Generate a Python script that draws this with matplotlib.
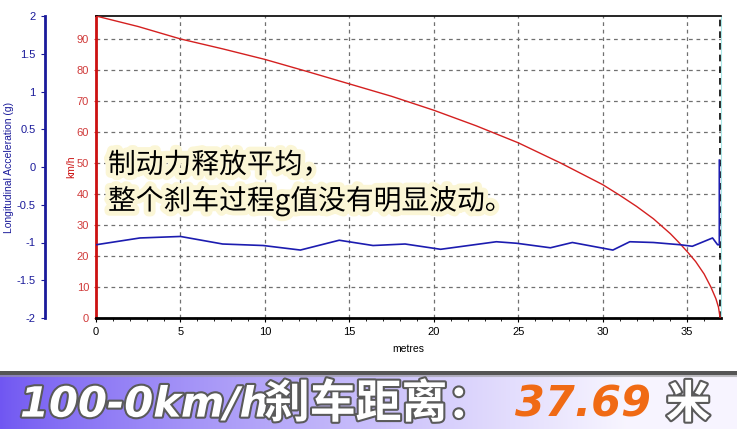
import matplotlib as mpl
mpl.use('Agg')
import matplotlib.pyplot as plt
import matplotlib.patheffects as pe
import numpy as np

# speed (km/h) against distance (m)
dist_v = [0, 2.5, 5, 7.5, 10, 12.5, 15, 17.5, 20, 22.5, 25, 27.5, 30, 31, 32, 33, 34, 34.5, 35, 35.5, 36, 36.4, 36.7, 36.85, 36.95]
speed = [97.4, 94, 90, 86.8, 83.4, 79.5, 75.5, 71.5, 67, 62, 56.5, 50, 43, 39.6, 36, 32, 27.2, 24.4, 21.4, 18.2, 14.2, 10, 6.2, 3.5, 0]

# longitudinal acceleration (g) against distance (m)
dist_g = [0, 2.6, 5.0, 7.5, 9.9, 12.1, 14.4, 16.4, 18.3, 20.4, 23.7, 24.9, 26.9, 28.2, 30.6, 31.6, 33.0, 34.6, 35.3, 36.5, 36.8, 36.9, 36.9]
accel = [-1.03, -0.94, -0.92, -1.02, -1.04, -1.10, -0.97, -1.04, -1.02, -1.09, -0.99, -1.01, -1.07, -1.00, -1.10, -0.99, -1.00, -1.03, -1.05, -0.94, -1.03, -1.03, 0.09]

x_ticks = [0, 5, 10, 15, 20, 25, 30, 35]
v_ticks = [0, 10, 20, 30, 40, 50, 60, 70, 80, 90]
g_ticks = [-2, -1.5, -1, -0.5, 0, 0.5, 1, 1.5, 2]
g_labels = ['-2', '-1.5', '-1', '-0.5', '0', '0.5', '1', '1.5', '2']

note1 = '制动力释放平均，'
note2 = '整个刹车过程g值没有明显波动。'
title_a1 = '100-0km/h'
title_a2 = '刹车距离：'
title_b = '37.69'
title_c = '米'

red = '#cc1111'
blue = '#1a1a9a'
W, H = 737, 429

plt.rcParams['font.family'] = ['Liberation Sans', 'DejaVu Sans']
fig = plt.figure(figsize=(W / 100, H / 100), dpi=100)

ax = fig.add_axes([96 / W, 1 - 318 / H, 625 / W, 302 / H])
ax.plot(dist_v, speed, color='#d42020', lw=1.0, zorder=3)
ax.set_xlim(0, 37.0)
ax.set_ylim(0, 97.4)
ax.set_xticks(x_ticks)
ax.set_xticks(np.arange(0, 37, 1), minor=True)
ax.set_yticks(v_ticks)
ax.grid(True, color='#707070', ls=(0, (3, 3)), lw=0.9)
ax.tick_params(axis='y', colors='#d03a3a', labelsize=8, length=3, direction='inout')
ax.tick_params(axis='x', labelsize=8, length=3, colors='black')
ax.tick_params(axis='x', which='minor', length=2)
ax.spines['left'].set_color(red)
ax.spines['left'].set_linewidth(2)
ax.spines['bottom'].set_linewidth(2)
ax.spines['top'].set_linewidth(1.2)
ax.spines['right'].set_color('#a8e8e8')
ax.axvline(36.95, color='black', ls=(0, (4, 3)), lw=1.2, zorder=2)
ax.set_xlabel('metres', fontsize=7.5, labelpad=5)
ax.set_ylabel('km/h', color=red, fontsize=7.5, labelpad=0)

ax2 = ax.twinx()
ax2.plot(dist_g, accel, color='#1c1cb0', lw=1.2, zorder=3)
ax2.set_ylim(-2, 2)
ax2.set_yticks(g_ticks)
ax2.set_yticklabels(g_labels)
ax2.yaxis.set_ticks_position('left')
ax2.yaxis.set_label_position('left')
ax2.spines['left'].set_position(('axes', -0.082))
ax2.spines['left'].set_color(blue)
ax2.spines['left'].set_linewidth(2)
ax2.spines['right'].set_visible(False)
ax2.spines['top'].set_visible(False)
ax2.spines['bottom'].set_visible(False)
ax2.tick_params(axis='y', colors=blue, labelsize=8, length=3)
ax2.set_ylabel('Longitudinal Acceleration (g)', color=blue, fontsize=7.5, labelpad=2)

glow = [pe.withStroke(linewidth=7, foreground='#fbf6d6')]
cjk = ['Noto Sans CJK SC', 'DejaVu Sans']
fig.text(108 / W, 1 - 165 / H, note1, family=cjk, fontsize=20, va='center',
         color='black', path_effects=glow, zorder=5)
fig.text(108 / W, 1 - 201 / H, note2, family=cjk, fontsize=20, va='center',
         color='black', path_effects=glow, zorder=5)

# banner
bx = fig.add_axes([0, 0, 1, 58 / H])
grad = np.linspace(0, 1, 256)
c0 = np.array([0.44, 0.34, 0.95])
c1 = np.array([0.97, 0.96, 1.0])
t = np.clip(grad / 0.85, 0, 1) ** 0.8
img = (c0[None, :] * (1 - t[:, None]) + c1[None, :] * t[:, None])[None, :, :]
bx.imshow(img, aspect='auto', extent=[0, 1, 0, 1])
bx.set_xlim(0, 1)
bx.set_ylim(0, 1)
bx.axis('off')
bx.axhline(0.97, color='#555555', lw=3)
bx.axhline(0.92, color='#9a9a9a', lw=1.5, alpha=0.6)

outline = [pe.withStroke(linewidth=3, foreground='#5a5a5a')]
bfont = ['DejaVu Sans', 'Noto Sans CJK SC']
bx.text(20 / W, 0.42, title_a1, family=bfont, fontsize=30, fontweight='bold',
        style='italic', color='white', va='center', path_effects=outline)
bx.text(264 / W, 0.42, title_a2, family=cjk, fontsize=33, fontweight='heavy',
        color='white', va='center', path_effects=outline)
bx.text(515 / W, 0.42, title_b, family=bfont, fontsize=31, fontweight='bold',
        style='italic', color='#f06a14', va='center')
bx.text(666 / W, 0.42, title_c, family=cjk, fontsize=32, fontweight='heavy',
        color='white', va='center', path_effects=outline)

fig.savefig('out.png', dpi=100)
